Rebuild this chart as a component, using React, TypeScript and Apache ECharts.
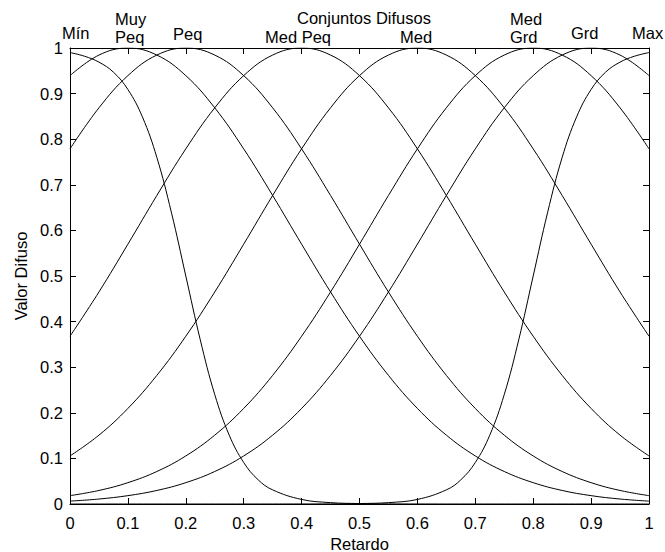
import React, { useEffect, useRef } from "react";
import * as echarts from "echarts";

// Sample positions on the "Retardo" axis
const xs = [0, 0.05, 0.1, 0.15, 0.2, 0.25, 0.3, 0.35, 0.4, 0.45, 0.5, 0.55, 0.6, 0.65, 0.7, 0.75, 0.8, 0.85, 0.9, 0.95, 1];

// Membership values
const muyPeq = [0.9394, 0.9845, 1, 0.9845, 0.9394, 0.8688, 0.7788, 0.6766, 0.5698, 0.465, 0.3679, 0.2821, 0.2096, 0.151, 0.1054, 0.0713, 0.0468, 0.0297, 0.0183, 0.0109, 0.0063];
const peq = [0.7788, 0.8688, 0.9394, 0.9845, 1, 0.9845, 0.9394, 0.8688, 0.7788, 0.6766, 0.5698, 0.465, 0.3679, 0.2821, 0.2096, 0.151, 0.1054, 0.0713, 0.0468, 0.0297, 0.0183];
const medPeq = [0.3679, 0.465, 0.5698, 0.6766, 0.7788, 0.8688, 0.9394, 0.9845, 1, 0.9845, 0.9394, 0.8688, 0.7788, 0.6766, 0.5698, 0.465, 0.3679, 0.2821, 0.2096, 0.151, 0.1054];
const med = [0.1054, 0.151, 0.2096, 0.2821, 0.3679, 0.465, 0.5698, 0.6766, 0.7788, 0.8688, 0.9394, 0.9845, 1, 0.9845, 0.9394, 0.8688, 0.7788, 0.6766, 0.5698, 0.465, 0.3679];
const medGrd = [0.0183, 0.0297, 0.0468, 0.0713, 0.1054, 0.151, 0.2096, 0.2821, 0.3679, 0.465, 0.5698, 0.6766, 0.7788, 0.8688, 0.9394, 0.9845, 1, 0.9845, 0.9394, 0.8688, 0.7788];
const grd = [0.0063, 0.0109, 0.0183, 0.0297, 0.0468, 0.0713, 0.1054, 0.151, 0.2096, 0.2821, 0.3679, 0.465, 0.5698, 0.6766, 0.7788, 0.8688, 0.9394, 0.9845, 1, 0.9845, 0.9394];

// Edge sets (steeper, sampled more densely)
const minXs = [0, 0.025, 0.05, 0.075, 0.1, 0.125, 0.15, 0.175, 0.2, 0.225, 0.25, 0.275, 0.3, 0.325, 0.35, 0.4, 0.45, 0.5, 0.55, 0.6, 0.7, 0.8, 0.9, 1];
const minVals = [0.99, 0.982, 0.969, 0.947, 0.909, 0.849, 0.76, 0.64, 0.5, 0.36, 0.24, 0.151, 0.091, 0.053, 0.031, 0.01, 0.003, 0.001, 0.0003, 0.0001, 0, 0, 0, 0];
const maxXs = [0, 0.1, 0.2, 0.3, 0.4, 0.45, 0.5, 0.55, 0.6, 0.65, 0.675, 0.7, 0.725, 0.75, 0.775, 0.8, 0.825, 0.85, 0.875, 0.9, 0.925, 0.95, 0.975, 1];
const maxVals = [0, 0, 0, 0, 0.0001, 0.0003, 0.001, 0.003, 0.01, 0.031, 0.053, 0.091, 0.151, 0.24, 0.36, 0.5, 0.64, 0.76, 0.849, 0.909, 0.947, 0.969, 0.982, 0.99];

const setNames = ["Mín", "Muy Peq", "Peq", "Med Peq", "Med", "Med Grd", "Grd", "Max"];

const FONT = "'Liberation Sans', Arial, Helvetica, sans-serif";
const FS = 16.5;

function pairs(x: number[], y: number[]) {
  return x.map((v, i) => [v, y[i]]);
}

export default function App() {
  const ref = useRef<HTMLDivElement>(null);
  useEffect(() => {
    if (!ref.current) return;
    const chart = echarts.init(ref.current, undefined, { renderer: "svg" });
    const seriesData = [
      pairs(minXs, minVals),
      pairs(xs, muyPeq),
      pairs(xs, peq),
      pairs(xs, medPeq),
      pairs(xs, med),
      pairs(xs, medGrd),
      pairs(xs, grd),
      pairs(maxXs, maxVals),
    ];
    const axisCommon = {
      type: "value" as const,
      min: 0,
      max: 1,
      interval: 0.1,
      splitLine: { show: false },
      axisLine: { show: true, onZero: false, lineStyle: { color: "#000", width: 1 } },
      axisTick: { show: true, inside: true, length: 6, lineStyle: { color: "#000", width: 1 } },
    };
    const labelStyle = { color: "#000", fontSize: FS, fontFamily: FONT };
    const txt = (text: string, x: number, y: number) => ({
      type: "text",
      x,
      y,
      style: { text, fill: "#000", font: `${FS}px ${FONT}`, align: "left", verticalAlign: "middle" },
    });
    chart.setOption({
      animation: false,
      backgroundColor: "#fff",
      title: {
        text: "Conjuntos Difusos",
        left: 297,
        top: 9,
        padding: 0,
        textStyle: { fontSize: FS, fontWeight: "normal", fontFamily: FONT, color: "#000" },
      },
      grid: { left: 70, right: 16, top: 48, bottom: 48, containLabel: false, outerBoundsMode: "none" },
      xAxis: [
        {
          ...axisCommon,
          position: "bottom",
          name: "Retardo",
          nameLocation: "middle",
          nameGap: 29,
          nameTextStyle: labelStyle,
          axisLabel: { ...labelStyle, margin: 10 },
        },
        { ...axisCommon, position: "top", axisLabel: { show: false } },
      ],
      yAxis: [
        {
          ...axisCommon,
          position: "left",
          name: "Valor Difuso",
          nameLocation: "middle",
          nameGap: 40,
          nameTextStyle: labelStyle,
          axisLabel: { ...labelStyle, margin: 7 },
        },
        { ...axisCommon, position: "right", axisLabel: { show: false } },
      ],
      graphic: [
        txt("Mín", 62, 32.5),
        txt("Muy", 115, 19),
        txt("Peq", 115, 37),
        txt("Peq", 173, 34),
        txt("Med Peq", 265, 37.3),
        txt("Med", 400, 37.3),
        txt("Med", 510, 19),
        txt("Grd", 510, 37.3),
        txt("Grd", 571, 32.5),
        txt("Max", 632, 33),
      ],
      series: seriesData.map((d, i) => ({
        name: setNames[i],
        type: "line",
        data: d,
        xAxisIndex: 0,
        yAxisIndex: 0,
        smooth: 0.4,
        showSymbol: false,
        symbol: "none",
        clip: true,
        lineStyle: { color: "#000", width: 1 },
        itemStyle: { color: "#000" },
      })),
    });
    return () => chart.dispose();
  }, []);
  return (
    <div
      ref={ref}
      style={{ position: "fixed", left: 0, top: 0, width: 665, height: 552, background: "#fff" }}
    />
  );
}
